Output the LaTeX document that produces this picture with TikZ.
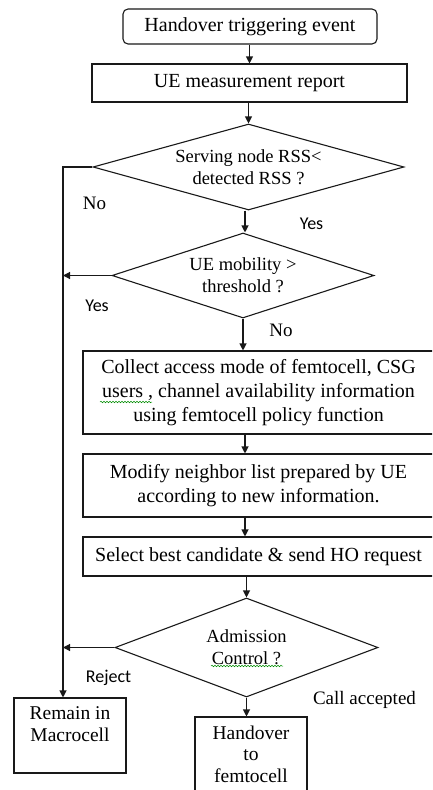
\documentclass[tikz,border=0pt]{standalone}
\usepackage{fontspec}
\setmainfont{Liberation Serif}
\newfontfamily\calibrifont{Carlito}
\usetikzlibrary{arrows.meta,shapes.geometric,decorations.pathmorphing}

\tikzset{
  flowline/.style={line width=1.1pt, draw=black!90},
  arr/.style={flowline, -{Triangle[length=7pt,width=7pt]}},
  procbox/.style={flowline, rectangle, inner sep=0pt, align=center,
                  font=\fontsize{20}{24}\selectfont},
  startbox/.style={procbox, rounded corners=5pt},
  decision/.style={flowline, diamond, inner sep=0pt, align=center,
                   font=\fontsize{18.5}{22}\selectfont},
  endbox/.style={flowline, rectangle, inner sep=0pt},
  endtext/.style={align=center, inner sep=0pt, anchor=north,
                  font=\fontsize{19.5}{21.5}\selectfont},
  serlabel/.style={inner sep=0pt, font=\fontsize{19}{22}\selectfont},
  sanslabel/.style={inner sep=0pt, font=\calibrifont\fontsize{18}{22}\selectfont},
  squiggle/.style={draw=green!55!black, line width=0.5pt,
                   decorate, decoration={snake, amplitude=0.8pt, segment length=3pt}}
}

\begin{document}
\begin{tikzpicture}[x=1pt, y=-1pt]
\useasboundingbox (0,0) rectangle (432,790);
\clip (0,0) rectangle (432,790);

% guide coordinates for the left return line and the main column of arrows
\coordinate (lft) at (63,0);
\coordinate (spine) at (245,0);

% main column
\node[startbox, minimum width=254pt, minimum height=35pt] (start) at (250,26.5)
  {Handover triggering event};
\node[procbox, minimum width=315pt, minimum height=38pt] (report) at (249.5,83)
  {UE measurement report};
\node[decision, aspect=3.6, minimum width=311pt, minimum height=86pt] (rss) at (248.5,167)
  {Serving node RSS<\\detected RSS ?};
\node[decision, aspect=3.1, minimum width=262pt, minimum height=85pt] (mob) at (243,275.5)
  {UE mobility >\\threshold ?};
\node[procbox, minimum width=351pt, minimum height=83pt] (collect) at (258.5,392.5)
  {Collect access mode of femtocell, CSG\\users , channel availability information\\using femtocell policy function};
\node[procbox, minimum width=351pt, minimum height=63pt] (modify) at (258.5,485.5)
  {Modify neighbor list prepared by UE\\according to new information.};
\node[procbox, minimum width=351pt, minimum height=39pt] (select) at (258.5,556.5)
  {Select best candidate \& send HO request};
\node[decision, aspect=2.65, minimum width=263pt, minimum height=99pt] (adm) at (246.5,647.5)
  {Admission\\Control ?};

% outcome boxes
\node[endbox, minimum width=112pt, minimum height=75pt] (remain) at (70,735.5) {};
\node[endtext] (remaintxt) at ([yshift=-9pt]remain.north) {Remain in\\Macrocell};
\node[endbox, minimum width=112pt, minimum height=90pt] (hofemto) at (251,762) {};
\node[endtext] (hotxt) at ([yshift=-9pt]hofemto.north) {Handover\\to\\femtocell};

% spell-check underlines carried over with the text
\draw[squiggle] (100,402) -- (152,402);
\draw[squiggle] (211,666) -- (283,666);

% connectors down the main column
\draw[arr] (start.south -| report.north) -- (report.north);
\draw[arr] (report.south -| rss.north) -- (rss.north);
\draw[arr] (rss.south -| spine) -- (mob.north -| spine);
\draw[arr] (mob.south) -- (mob.south |- collect.north);
\draw[arr] (collect.south -| spine) -- (modify.north -| spine);
\draw[arr] (modify.south -| spine) -- (select.north -| spine);
\draw[arr] (select.south -| adm.north) -- (adm.north);
\draw[arr] (adm.south) -- (adm.south |- hofemto.north);

% return line on the left
\draw[arr] (rss.west) -- (rss.west -| lft) -- (remain.north -| lft);
\draw[arr] (mob.west) -- (mob.west -| lft);
\draw[arr] (adm.west) -- (adm.west -| lft);

% branch labels
\node[serlabel] (lno1) at (94.5,203) {No};
\node[sanslabel] (lyes1) at (311.5,224) {Yes};
\node[sanslabel] (lyes2) at (97,306) {Yes};
\node[serlabel] (lno2) at (281,330) {No};
\node[sanslabel] (lrej) at (108.5,678) {Reject};
\node[serlabel] (lacc) at (364.5,700) {Call accepted};
\end{tikzpicture}
\end{document}
